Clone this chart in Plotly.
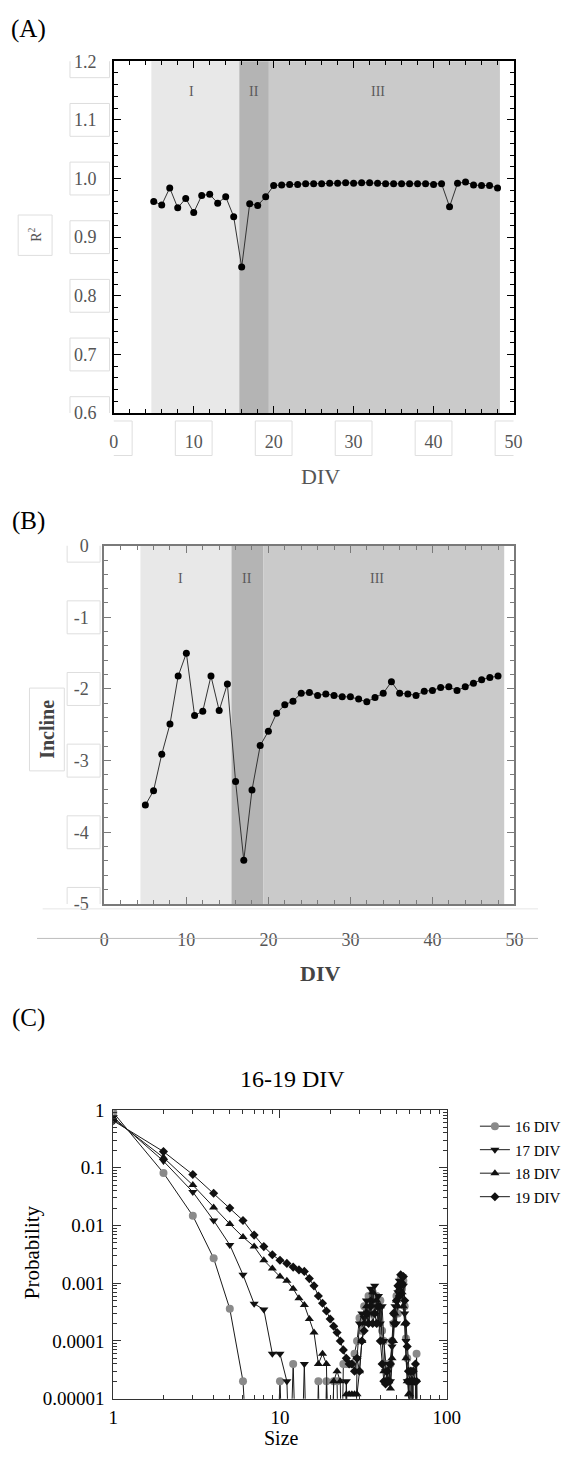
import plotly.graph_objects as go

W, H = 566, 1458
SERIF = "Liberation Serif"

# ---------------- Panel A data (R^2 vs DIV) ----------------
a_div = list(range(5, 49))
a_r2 = [0.961, 0.955, 0.984, 0.950, 0.966, 0.942, 0.971, 0.973, 0.958, 0.969,
        0.935, 0.849, 0.957, 0.954, 0.969, 0.988, 0.989, 0.990, 0.990, 0.991,
        0.991, 0.991, 0.992, 0.992, 0.993, 0.992, 0.993, 0.993, 0.992, 0.991,
        0.991, 0.991, 0.991, 0.991, 0.991, 0.990, 0.991, 0.952, 0.992, 0.994,
        0.989, 0.988, 0.988, 0.984]
a_bounds = [4.7, 15.7, 19.4, 48.3]
a_yticks = [0.6, 0.7, 0.8, 0.9, 1.0, 1.1, 1.2]
a_xticks = [0, 10, 20, 30, 40, 50]
a_phase_x = [9.7, 17.6, 33.0]
a_phase_y = 1.148

# ---------------- Panel B data (Incline vs DIV) ----------------
b_div = list(range(5, 49))
b_incl = [-3.62, -3.42, -2.91, -2.49, -1.82, -1.50, -2.37, -2.31, -1.82, -2.30,
          -1.93, -3.29, -4.39, -3.41, -2.79, -2.59, -2.34, -2.22, -2.17, -2.06,
          -2.05, -2.09, -2.07, -2.09, -2.11, -2.11, -2.14, -2.18, -2.12, -2.06,
          -1.90, -2.06, -2.07, -2.09, -2.03, -2.02, -1.98, -1.97, -2.02, -1.97,
          -1.92, -1.87, -1.84, -1.82]
b_bounds = [4.4, 15.5, 19.4, 48.75]
b_yticks = [0, -1, -2, -3, -4, -5]
b_xticks = [0, 10, 20, 30, 40, 50]
b_phase_x = [9.25, 17.4, 33.2]
b_phase_y = -0.46

phase_names = ["I", "II", "III"]

# ---------------- Panel C data (avalanche size distributions) ----------------
c_size = list(range(1, 69))
c_16 = [0.9, 0.081, 0.0147, 0.0027, 0.00036, 0.00002, 0, 0, 0, 0.00002,
        0, 0.00004, 0, 0, 0, 0, 0.00002, 0, 0.00002, 0,
        0.00002, 0.00002, 0, 0.00004, 0.00004, 0.00004, 0.00004, 0.00006, 0.0001, 0.00025,
        0.00015, 0.0004, 0.00025, 0.0006, 0.0003, 0.0007, 0.0004, 0.0006, 0.0002, 0.0005,
        0.00015, 0.0001, 0.00004, 0.00002, 0.00002, 0.00004, 0.0001, 0.0002, 0.0003, 0.0006,
        0.0003, 0.0009, 0.0012, 0.0008, 0.0011, 0.0004, 0.00011, 0.00005, 0.00002, 0.00002,
        0, 0.00002, 0, 0, 0, 0.00006, 0, 0]
c_17 = [0.75, 0.13, 0.038, 0.0122, 0.0046, 0.0014, 0.00044, 0.00035, 0.00006, 0.00006,
        0.00002, 0, 0, 0.00004, 0, 0, 0, 0, 0, 0,
        0, 0, 0, 0, 0.00002, 0, 0, 0, 0.00005, 0.0002,
        0.0003, 0.00025, 0.0005, 0.0003, 0.0008, 0.0005, 0.0009, 0.0004, 0.0006, 0.0002,
        0.0004, 0.0001, 0.00003, 0.00002, 0.00004, 0.00002, 0.00008, 0.0002, 0.0004, 0.0002,
        0.0007, 0.0011, 0.0006, 0.0013, 0.0009, 0.0003, 0.0001, 0.00002, 0.00002, 0,
        0.00002, 0.00002, 0.00002, 0, 0.00002, 0, 0, 0]
c_18 = [0.70, 0.15, 0.05, 0.0204, 0.0106, 0.0063, 0.0043, 0.0025, 0.0018, 0.0013,
        0.0011, 0.0008, 0.00055, 0.00042, 0.00024, 0.00014, 0.00004, 0.00006, 0.00004, 0,
        0.00002, 0.00003, 0.00002, 0, 0.000012, 0.000012, 0.000012, 0.000012, 0.000012, 0.00003,
        0.0001, 0.0002, 0.0004, 0.0002, 0.0005, 0.0007, 0.0003, 0.0005, 0.0002, 0.0004,
        0.0001, 0.00003, 0.00002, 0.00002, 0.00002, 0.000015, 0.00005, 0.0001, 0.0003, 0.0005,
        0.0004, 0.0008, 0.0010, 0.0007, 0.0004, 0.0002, 0.00005, 0.00002, 0.000012, 0.000012,
        0, 0.00002, 0, 0, 0, 0, 0, 0]
c_19 = [0.65, 0.19, 0.076, 0.036, 0.02, 0.0122, 0.0068, 0.0043, 0.0031, 0.0025,
        0.0022, 0.0019, 0.0017, 0.0016, 0.0012, 0.0009, 0.0006, 0.00045, 0.00033, 0.00024,
        0.00018, 0.00014, 0.0001, 0.00007, 0.00005, 0.00004, 0.00004, 0.00003, 0.00005, 0.00003,
        0.0001, 0.00015, 0.0003, 0.0002, 0.0004, 0.0002, 0.0003, 0.0002, 0.0004, 0.0001,
        0.00004, 0.00002, 0.000018, 0.00003, 0.00002, 0.00004, 0.0001, 0.0003, 0.0002, 0.0005,
        0.0009, 0.0006, 0.0014, 0.0010, 0.0013, 0.0005, 0.0002, 0.00008, 0.00003, 0.00002,
        0.00003, 0.00002, 0.00003, 0.00002, 0.00004, 0.00002, 0, 0]
c_names = ["16 DIV", "17 DIV", "18 DIV", "19 DIV"]
c_symbols = ["circle", "triangle-down", "triangle-up", "diamond"]
c_colors = ["#8a8a8a", "#111111", "#111111", "#111111"]
c_sizes = [8, 8, 8, 7]
c_yticks = [1, 0.1, 0.01, 0.001, 0.0001, 0.00001]
c_yticktext = ["1", "0.1", "0.01", "0.001", "0.0001", "0.00001"]
c_xticks = [1, 10, 100]


def show_zero_on_log(vals):
    # empty bins are drawn as lines dropping out of the bottom of the log axis
    return [v if v > 0 else 1e-8 for v in vals]


def px(x):
    return x / W


def py(y):
    return 1 - y / H


fig = go.Figure()

fig.add_trace(go.Scatter(x=a_div, y=a_r2, mode="lines+markers", xaxis="x", yaxis="y",
                         line=dict(color="#333333", width=1),
                         marker=dict(color="black", size=7), showlegend=False))
fig.add_trace(go.Scatter(x=b_div, y=b_incl, mode="lines+markers", xaxis="x2", yaxis="y2",
                         line=dict(color="#333333", width=1),
                         marker=dict(color="black", size=7), showlegend=False))
for name, vals, sym, col, ms in zip(c_names, [c_16, c_17, c_18, c_19], c_symbols, c_colors, c_sizes):
    fig.add_trace(go.Scatter(x=c_size, y=show_zero_on_log(vals), mode="lines+markers",
                             xaxis="x3", yaxis="y3", name=name, legendgroup=name,
                             line=dict(color="#1a1a1a", width=1),
                             marker=dict(symbol=sym, color=col, size=ms,
                                         line=dict(width=0))))

shapes = []
region_cols = ["#e8e8e8", "#b4b4b4", "#cacaca"]
for xr, yr, bounds in [("x", "y domain", a_bounds), ("x2", "y2 domain", b_bounds)]:
    for i in range(3):
        shapes.append(dict(type="rect", xref=xr, yref=yr, x0=bounds[i], x1=bounds[i + 1],
                           y0=0, y1=1, fillcolor=region_cols[i], line=dict(width=0),
                           layer="below"))

box_col = "#dedede"
# tick label boxes panel A
for v in a_yticks:
    shapes.append(dict(type="rect", xref="paper", yref="y", x0=px(69), x1=px(111),
                       y0=v - 0.028, y1=v + 0.028, line=dict(color=box_col, width=1)))
for v in a_xticks:
    shapes.append(dict(type="rect", xref="x", yref="paper", x0=v - 2.3, x1=v + 2.3,
                       y0=py(452), y1=py(417), line=dict(color=box_col, width=1)))
# tick label boxes panel B
for v in b_yticks:
    shapes.append(dict(type="rect", xref="paper", yref="y2", x0=px(66), x1=px(101),
                       y0=v - 0.23, y1=v + 0.23, line=dict(color=box_col, width=1)))
shapes.append(dict(type="line", xref="paper", yref="paper", x0=px(34), x1=1,
                   y0=py(942), y1=py(942), line=dict(color="#bdbdbd", width=1)))
shapes.append(dict(type="line", xref="paper", yref="paper", x0=px(40), x1=1,
                   y0=py(912), y1=py(912), line=dict(color="#e6e6e6", width=1)))
# axis title boxes
shapes.append(dict(type="rect", xref="paper", yref="paper", x0=px(14), x1=px(50),
                   y0=py(249), y1=py(208), line=dict(color=box_col, width=1)))
shapes.append(dict(type="rect", xref="paper", yref="paper", x0=px(26), x1=px(63),
                   y0=py(772), y1=py(688), line=dict(color=box_col, width=1)))

ann = []
for xr, yr, xs, yv in [("x", "y", a_phase_x, a_phase_y), ("x2", "y2", b_phase_x, b_phase_y)]:
    for name, xv in zip(phase_names, xs):
        ann.append(dict(x=xv, y=yv, xref=xr, yref=yr, text=name, showarrow=False,
                        font=dict(family=SERIF, size=14, color="#5a5a5a")))

def label(text, x, y, size, angle=0, color="black", bold=False):
    t = f"<b>{text}</b>" if bold else text
    ann.append(dict(x=px(x), y=py(y), xref="paper", yref="paper", text=t, showarrow=False,
                    textangle=angle, font=dict(family=SERIF, size=size, color=color),
                    xanchor="center", yanchor="middle"))

label("(A)", 25, 19, 25)
label("(B)", 25, 518, 25)
label("(C)", 25, 1023, 25)
label("R<sup>2</sup>", 32, 228, 14, angle=-90, color="#555555")
label("DIV", 335, 473, 22, color="#555555")
label("Incline", 45, 730, 20, angle=-90, color="#444444", bold=True)
label("DIV", 334, 978, 22, color="#444444", bold=True)
label("16-19 DIV", 305, 1085, 24)
label("Probability", 28, 1260, 21, angle=-90)
label("Size", 294, 1449, 20)

tick_a = dict(family=SERIF, size=18, color="#555555")
tick_b = dict(family=SERIF, size=18, color="#555555")
tick_c = dict(family=SERIF, size=19, color="black")

def lin_axis(domain, rng, dtick, mdtick, linecol, lw, font, standoff, anchor, **kw):
    return dict(domain=domain, range=rng, anchor=anchor, showline=True, linecolor=linecol,
                linewidth=lw, mirror="allticks", ticks="inside", ticklen=7, tickwidth=1.3,
                tickcolor=linecol, dtick=dtick, tick0=0, showgrid=False, zeroline=False,
                tickfont=font, ticklabelstandoff=standoff,
                minor=dict(dtick=mdtick, ticks="inside", ticklen=4, tickcolor=linecol,
                           tickwidth=1, showgrid=False), **kw)

minor_x = [m * 10 ** e for e in range(0, 2) for m in range(2, 10)]
minor_y = [m * 10.0 ** e for e in range(-5, 0) for m in range(2, 10)]

fig.update_layout(
    width=W, height=H, margin=dict(l=0, r=0, t=0, b=0),
    paper_bgcolor="white", plot_bgcolor="white",
    shapes=shapes, annotations=ann,
    xaxis=lin_axis([px(115.5), px(540)], [0, 50], 10, 2, "black", 1.5, tick_a, 12, "y"),
    yaxis=lin_axis([py(409), py(52)], [0.6, 1.2], 0.1, 0.02, "black", 1.5, tick_a, 12, "x",
                   tickformat=".1f"),
    xaxis2=lin_axis([px(105.5), px(541)], [0, 50], 10, 2, "#7a7a7a", 2, tick_b, 18, "y2"),
    yaxis2=lin_axis([py(907), py(543.5)], [-5, 0], 1, 0.2, "#7a7a7a", 2, tick_b, 10, "x2",
                    tickmode="array", tickvals=b_yticks, ticktext=[str(v) for v in b_yticks]),
    xaxis3=dict(domain=[px(115), px(469)], type="log", range=[0, 2], anchor="y3",
                showline=True, linecolor="#333333", linewidth=1, mirror="allticks",
                ticks="inside", ticklen=8, tickcolor="#333333", tickmode="array",
                tickvals=c_xticks, ticktext=[str(v) for v in c_xticks], showgrid=False,
                zeroline=False, tickfont=tick_c, ticklabelstandoff=1,
                minor=dict(tickmode="array", tickvals=minor_x, ticks="inside", ticklen=4,
                           tickcolor="#333333", showgrid=False)),
    yaxis3=dict(domain=[py(1409), py(1116)], type="log", range=[-5, 0], anchor="x3",
                showline=True, linecolor="#333333", linewidth=1, mirror="allticks",
                ticks="inside", ticklen=8, tickcolor="#333333", tickmode="array",
                tickvals=c_yticks, ticktext=c_yticktext, showgrid=False, zeroline=False,
                tickfont=tick_c, ticklabelstandoff=4,
                minor=dict(tickmode="array", tickvals=minor_y, ticks="inside", ticklen=4,
                           tickcolor="#333333", showgrid=False)),
    legend=dict(x=px(499), y=py(1116), xanchor="left", yanchor="top",
                font=dict(family=SERIF, size=15, color="black"), bgcolor="rgba(0,0,0,0)",
                itemwidth=30, tracegroupgap=1),
)

fig.write_html("out.html")
